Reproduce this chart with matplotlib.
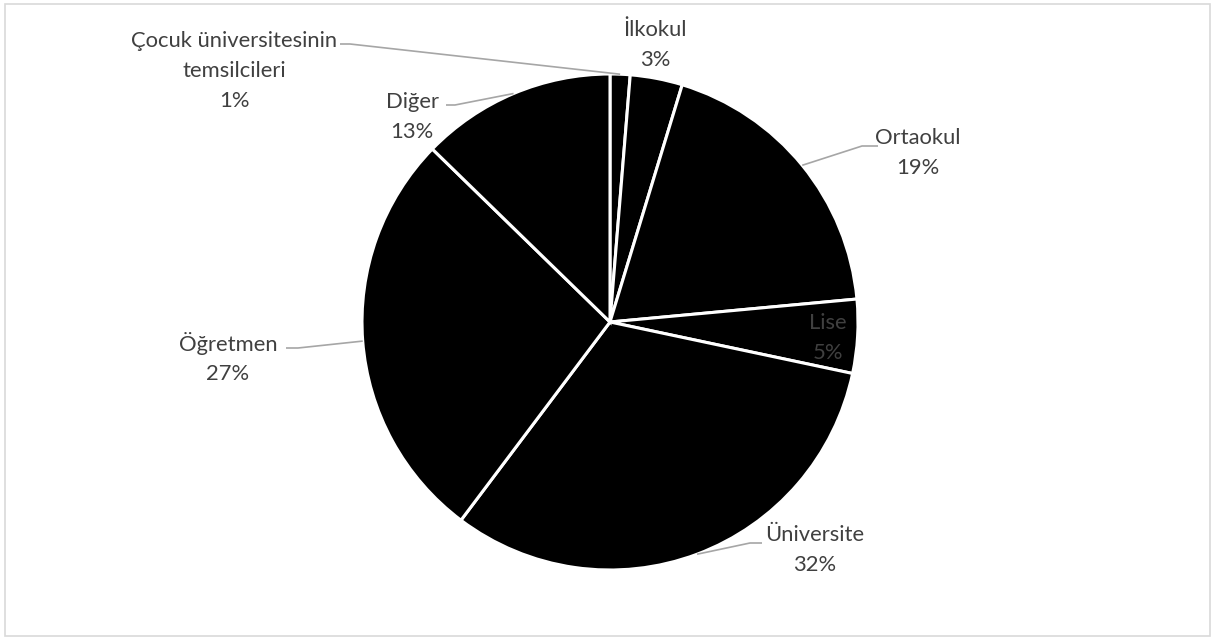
import matplotlib
matplotlib.use("Agg")
import matplotlib.pyplot as plt
import numpy as np
from matplotlib.patches import Rectangle

categories = ["Çocuk üniversitesinin\ntemsilcileri", "İlkokul", "Ortaokul", "Lise",
              "Üniversite", "Öğretmen", "Diğer"]
values = [1.3, 3.4, 18.8, 4.8, 31.9, 27.0, 12.7]

W, H = 1216, 639
fig = plt.figure(figsize=(W / 100, H / 100), dpi=100)
ax = fig.add_axes([0, 0, 1, 1])

cx, cy, R = 610, H - 322, 248
wedges, _ = ax.pie(values, startangle=90, counterclock=False, colors=["black"] * len(values),
                   radius=R, center=(cx, cy), frame=True,
                   wedgeprops=dict(edgecolor="white", linewidth=2.2))
ax.set_xlim(0, W)
ax.set_ylim(0, H)
ax.set_aspect("auto")
ax.axis("off")

ax.add_patch(Rectangle((5, 3), W - 11, H - 7, fill=False, edgecolor="#d9d9d9", linewidth=1.2))

txt_color = "#404040"
line_color = "#a6a6a6"
fs = 15.8
font = "Lato"

# text centre (image px) and leader path: elbow point then text-side end (None = no leader)
label_layout = {
    0: dict(xy=(234, 71), path=[(350, 44), (340, 44)]),
    1: dict(xy=(655, 45), path=None),
    2: dict(xy=(918, 153), path=[(862, 146), (878, 146)]),
    3: dict(xy=(828, 338), path=None),
    4: dict(xy=(815, 550), path=[(750, 543), (762, 543)]),
    5: dict(xy=(228, 358), path=[(298, 348), (286, 348)]),
    6: dict(xy=(412, 117), path=[(455, 105), (446, 105)]),
}

total = sum(values)
cum = 0
for i, (cat, v) in enumerate(zip(categories, values)):
    mid = (cum + v / 2) / total * 360
    cum += v
    ang = np.deg2rad(90 - mid)
    sx, sy = cx + R * np.cos(ang), cy + R * np.sin(ang)
    lay = label_layout[i]
    tx, ty = lay["xy"]
    label = f"{cat}\n{round(v)}%"
    ax.text(tx, H - ty, label, ha="center", va="center", fontsize=fs, family=font,
            color=txt_color, linespacing=1.6)
    if lay["path"]:
        xs = [sx] + [p[0] for p in lay["path"]]
        ys = [sy] + [H - p[1] for p in lay["path"]]
        ax.plot(xs, ys, color=line_color, linewidth=1.2, solid_capstyle="butt")

fig.savefig("out.png", dpi=100)
